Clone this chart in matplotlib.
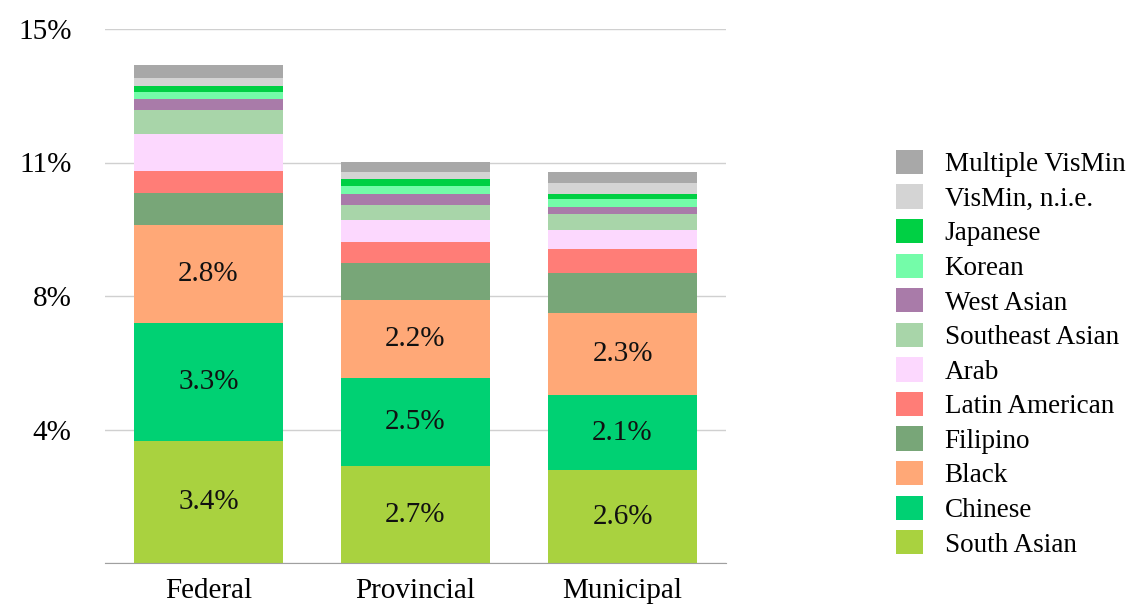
import numpy as np
import matplotlib
matplotlib.use("Agg")
import matplotlib.pyplot as plt
from matplotlib.patches import Patch

plt.rcParams['font.family'] = ['Liberation Serif', 'DejaVu Serif']

levels = ['Federal', 'Provincial', 'Municipal']
groups = ['South Asian', 'Chinese', 'Black', 'Filipino', 'Latin American', 'Arab',
          'Southeast Asian', 'West Asian', 'Korean', 'Japanese', 'VisMin, n.i.e.',
          'Multiple VisMin']
colors = ['#a9d23f', '#00d173', '#ffa877', '#78a678', '#ff7d77', '#fcd8fe',
          '#a8d5a9', '#a97ba9', '#74fca9', '#00d044', '#d4d4d4', '#a8a8a8']

south_asian = [3.43, 2.72, 2.61]
chinese = [3.31, 2.47, 2.11]
black = [2.75, 2.19, 2.30]
filipino = [0.91, 1.04, 1.12]
latin_american = [0.61, 0.59, 0.67]
arab = [1.04, 0.62, 0.53]
southeast_asian = [0.67, 0.42, 0.45]
west_asian = [0.31, 0.31, 0.22]
korean = [0.20, 0.22, 0.22]
japanese = [0.17, 0.22, 0.14]
vismin_nie = [0.22, 0.17, 0.31]
multiple_vismin = [0.37, 0.28, 0.31]

series = [south_asian, chinese, black, filipino, latin_american, arab,
          southeast_asian, west_asian, korean, japanese, vismin_nie, multiple_vismin]
labelled = ['South Asian', 'Chinese', 'Black']

fig = plt.figure(figsize=(11.41, 6.09), dpi=100)
ax = fig.add_axes([105 / 1141, 1 - 563 / 609, 621 / 1141, 534 / 609])

x = np.arange(len(levels))
bottom = np.zeros(len(levels))
for name, vals, c in zip(groups, series, colors):
    vals = np.array(vals)
    ax.bar(x, vals, width=0.72, bottom=bottom, color=c, zorder=3)
    if name in labelled:
        for xi, b, v in zip(x, bottom, vals):
            ax.text(xi, b + v / 2, f'{v:.1f}%', ha='center', va='center',
                    fontsize=21, color='#111111', zorder=4)
    bottom += vals

ax.set_xlim(-0.5, 2.5)
ax.set_ylim(0, 15)
yt = [0, 3.75, 7.5, 11.25, 15]
ax.set_yticks(yt)
ax.set_yticklabels(['', '4%', '8%', '11%', '15%'], fontsize=21)
ax.set_xticks(x)
ax.set_xticklabels(levels, fontsize=21)
ax.tick_params(axis='y', length=0, pad=24)
ax.tick_params(axis='x', length=0, pad=11)
ax.yaxis.grid(True, color='#d0d0d0', linewidth=1, zorder=0)
for s in ['left', 'right', 'top']:
    ax.spines[s].set_visible(False)
ax.spines['bottom'].set_color('#a0a0a0')
ax.spines['bottom'].set_zorder(5)

handles = [Patch(facecolor=c, label=g) for g, c in zip(groups, colors)][::-1]
fig.legend(handles=handles, loc='upper left', bbox_to_anchor=(885 / 1141, 1 - 139 / 609),
           frameon=False, fontsize=19.5, handlelength=1.0, handleheight=1.0,
           handletextpad=0.8, labelspacing=0.265, borderaxespad=0)

fig.savefig('out.png', dpi=100)
